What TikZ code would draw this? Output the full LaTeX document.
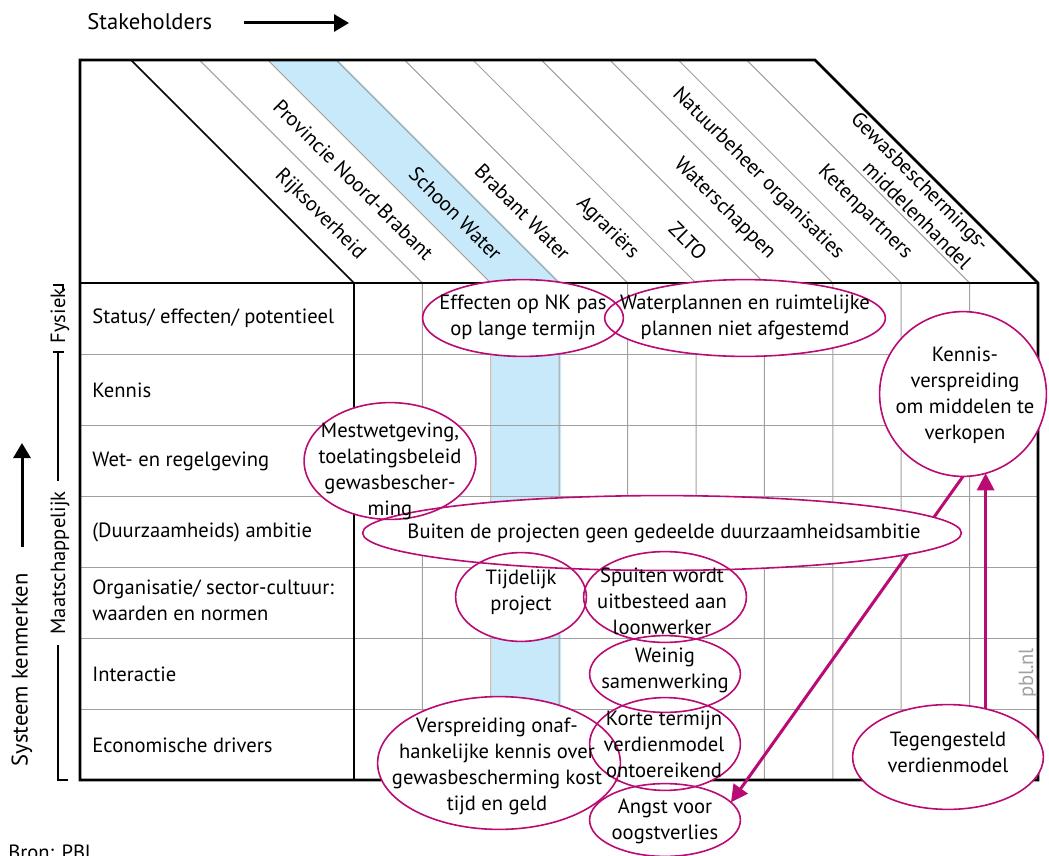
\documentclass[tikz,border=0pt]{standalone}
\usepackage{fontspec}
\setmainfont{PT Sans}
\usetikzlibrary{calc,shapes.geometric,arrows.meta}
\definecolor{pblmagenta}{HTML}{BA0A74}
\definecolor{pblblue}{HTML}{C7E9FA}
\definecolor{gridgray}{HTML}{A0A0A0}
\pgfdeclarelayer{gridlayer}
\pgfdeclarelayer{linklayer}
\pgfdeclarelayer{fillayer}
\pgfdeclarelayer{rimlayer}
\pgfsetlayers{gridlayer,linklayer,fillayer,rimlayer,main}
\tikzset{
  rowlabel/.style={anchor=west, align=left, inner sep=0pt},
  stakeholder/.style={anchor=east, rotate=-45, align=right, inner sep=1pt},
  axislabel/.style={rotate=90, inner sep=0pt},
  bubble/.style={ellipse, fill=white, inner sep=0pt},
  bubbletext/.style={align=center, inner sep=0pt},
  rim/.style={draw=pblmagenta, line width=0.8pt},
  gridline/.style={draw=gridgray, line width=0.5pt},
  frame/.style={line width=1.3pt, line join=miter},
  bracket/.style={line width=0.6pt},
  arrow/.style={-{Triangle[length=7.5pt,width=8.5pt]}, line width=1.5pt},
  linkarrow/.style={-{Triangle[length=8.5pt,width=8.5pt]}, line width=1.5pt, pblmagenta}
}

\begin{document}
\begin{tikzpicture}[x=0.5pt, y=-0.5pt, font=\fontsize{10.3}{13}\selectfont]
  \useasboundingbox (0,0) rectangle (1049,856);

  \node[anchor=west, inner sep=0pt, font=\fontsize{11.3}{13}\selectfont] (stake) at (87,22) {Stakeholders};
  \coordinate (stakefrom) at (244,23);
  \coordinate (staketo) at (349,23);
  \draw[arrow] (stakefrom) -- (staketo);

  \begin{pgfonlayer}{gridlayer}
    \fill[pblblue] (269,60) -- (338,60) -- (561,283) -- (561,780) -- (492,780) -- (492,283) -- cycle;
    \foreach \k in {1,...,9}
      \draw[gridline] ({354+68.4*\k-223},60) -- ({354+68.4*\k},283) -- ({354+68.4*\k},780);
    \foreach \y in {354,425,...,709}
      \draw[gridline] (80,\y) -- (1038,\y);
    \draw[line width=0.8pt] (131,60) -- (354,283) -- (354,780);
    \draw[frame] (80,283) -- (1038,283);
    \draw[frame] (80,60) -- (815,60) -- (1038,283) -- (1038,780) -- (80,780) -- cycle;
  \end{pgfonlayer}

  \foreach \name [count=\k from 0] in {Rijksoverheid, Provincie Noord-Brabant, Schoon Water, Brabant Water, Agrariërs, ZLTO, Waterschappen, Natuurbeheer organisaties, Ketenpartners, {Gewasbeschermings-\\middelenhandel}}
    \node[stakeholder] (sh\k) at ({354+68.4*(\k+0.5)-25},258) {\name};

  \node[rowlabel] (status) at (92,318) {Status/ effecten/ potentieel};
  \node[rowlabel] (kennisrow) at (92,390) {Kennis};
  \node[rowlabel] (wet) at (92,461) {Wet- en regelgeving};
  \node[rowlabel] (ambitie) at (92,532) {(Duurzaamheids) ambitie};
  \node[rowlabel] (orga) at (92,600) {Organisatie/ sector-cultuur:\\waarden en normen};
  \node[rowlabel] (interactie) at (92,674) {Interactie};
  \node[rowlabel] (economie) at (92,745) {Economische drivers};

  \node[axislabel] (fysiek) at (60,316) {Fysiek};
  \node[axislabel] (maatsch) at (60,563) {Maatschappelijk};
  \draw[bracket] (53,285) -- (63,285) -- (63,290);
  \draw[bracket] (53,352) -- (64,352);
  \draw[bracket] (58,352) -- (58,481);
  \draw[bracket] (58,645) -- (58,780) -- (68,780);

  \node[axislabel, font=\fontsize{11.3}{13}\selectfont] (systeem) at (22,670) {Systeem kenmerken};
  \coordinate (systeemfrom) at (22,547);
  \coordinate (systeemto) at (22,443);
  \draw[arrow] (systeemfrom) -- (systeemto);

  \node[axislabel, text=gridgray] (pbl) at (1028,673) {pbl.nl};
  \node[anchor=base west, inner sep=0pt] (bron) at (8,859) {Bron: PBL};

  \begin{pgfonlayer}{fillayer}
    \node[bubble, minimum width=100pt, minimum height=38pt] (effecten) at (523,318) {};
    \node[bubble, minimum width=140pt, minimum height=38pt] (water) at (745,318) {};
    \node[bubble, minimum width=85.5pt, minimum height=58pt] (mest) at (390,461) {};
    \node[bubble, minimum width=299pt, minimum height=37pt] (buiten) at (662,533) {};
    \node[bubble, minimum width=65pt, minimum height=44pt] (tijd) at (521,597) {};
    \node[bubble, minimum width=81pt, minimum height=45pt] (spuiten) at (665,597) {};
    \node[bubble, minimum width=75pt, minimum height=38pt] (weinig) at (665,674) {};
    \node[bubble, minimum width=75pt, minimum height=46pt] (korte) at (665,744) {};
    \node[bubble, minimum width=75pt, minimum height=36pt] (angst) at (665,820) {};
    \node[bubble, minimum width=121pt, minimum height=66pt] (versp) at (499,763) {};
    \node[bubble, minimum width=83pt, minimum height=82pt] (kennis) at (963,394) {};
    \node[bubble, minimum width=95pt, minimum height=52pt] (tegen) at (948,757) {};
  \end{pgfonlayer}

  \begin{pgfonlayer}{rimlayer}
    \foreach \b in {effecten,water,mest,buiten,tijd,spuiten,weinig,korte,angst,versp,kennis,tegen}
      \draw[rim] let \p0=(\b.center), \p1=(\b.east), \p2=(\b.north) in (\p0) ellipse ({\x1-\x0} and {\y2-\y0});
  \end{pgfonlayer}

  \begin{pgfonlayer}{linklayer}
    \draw[linkarrow] (kennis.south) -- (angst.15);
    \draw[linkarrow] (tegen.52) -- (tegen.52 |- kennis.-74);
  \end{pgfonlayer}

  \node[bubbletext] (effectentxt) at (523,317) {Effecten op NK pas\\op lange termijn};
  \node[bubbletext] (watertxt) at (745,317) {Waterplannen en ruimtelijke\\plannen niet afgestemd};
  \node[bubbletext] (mesttxt) at (390,471) {Mestwetgeving,\\toelatingsbeleid\\gewasbescher-\\ming};
  \node[bubbletext] (buitentxt) at (664,533) {Buiten de projecten geen gedeelde duurzaamheidsambitie};
  \node[bubbletext] (tijdtxt) at (521,592) {Tijdelijk\\project};
  \node[bubbletext] (spuitentxt) at (662,601) {Spuiten wordt\\uitbesteed aan\\loonwerker};
  \node[bubbletext] (weinigtxt) at (665,670) {Weinig\\samenwerking};
  \node[bubbletext] (kortetxt) at (664,744) {Korte termijn\\verdienmodel\\ontoereikend};
  \node[bubbletext] (angsttxt) at (665,821) {Angst voor\\oogstverlies};
  \node[bubbletext] (versptxt) at (497,766) {Verspreiding onaf-\\hankelijke kennis over\\gewasbescherming kost\\tijd en geld};
  \node[bubbletext] (kennistxt) at (965,395) {Kennis-\\verspreiding\\om middelen te\\verkopen};
  \node[bubbletext] (tegentxt) at (948,752) {Tegengesteld\\verdienmodel};
\end{tikzpicture}
\end{document}
